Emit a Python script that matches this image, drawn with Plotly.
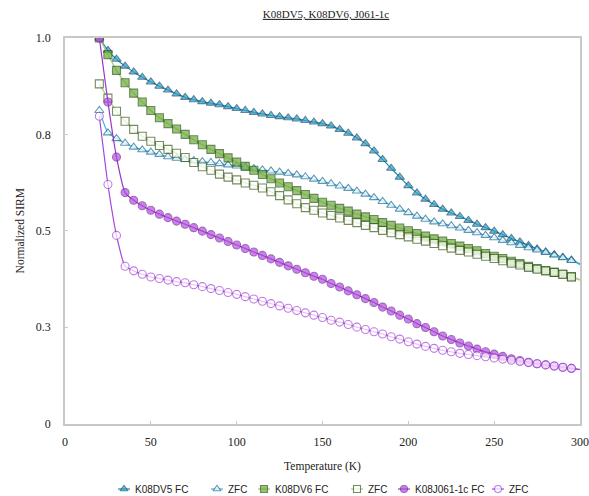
import plotly.graph_objects as go

# Temperature steps (K)
temperature = list(range(20, 305, 5))

# Normalized SIRM, one list per sample / cooling mode
dv5_fc = [1.000, 0.968, 0.945, 0.927, 0.912, 0.898, 0.886, 0.875, 0.865, 0.855,
          0.846, 0.840, 0.835, 0.831, 0.827, 0.822, 0.817, 0.812, 0.807, 0.803,
          0.799, 0.796, 0.793, 0.790, 0.786, 0.782, 0.778, 0.772, 0.763, 0.753,
          0.741, 0.726, 0.707, 0.685, 0.662, 0.639, 0.617, 0.598, 0.582, 0.568,
          0.556, 0.546, 0.537, 0.527, 0.517, 0.508, 0.499, 0.490, 0.480, 0.471,
          0.462, 0.453, 0.445, 0.438, 0.431, 0.424, 0.414]
dv5_zfc = [0.812, 0.754, 0.739, 0.727, 0.717, 0.710, 0.704, 0.698, 0.692, 0.688,
           0.685, 0.682, 0.679, 0.677, 0.674, 0.671, 0.668, 0.665, 0.661, 0.658,
           0.655, 0.652, 0.649, 0.645, 0.640, 0.634, 0.628, 0.622, 0.616, 0.610,
           0.603, 0.595, 0.586, 0.576, 0.566, 0.556, 0.547, 0.538, 0.530, 0.523,
           0.518, 0.513, 0.507, 0.501, 0.495, 0.488, 0.482, 0.475, 0.469, 0.462,
           0.456, 0.450, 0.444, 0.437, 0.430, 0.423, 0.412]
dv6_fc = [1.000, 0.957, 0.916, 0.884, 0.857, 0.834, 0.812, 0.793, 0.778, 0.764,
          0.750, 0.736, 0.723, 0.711, 0.700, 0.689, 0.678, 0.667, 0.657, 0.646,
          0.635, 0.624, 0.614, 0.604, 0.594, 0.584, 0.574, 0.566, 0.558, 0.551,
          0.543, 0.536, 0.529, 0.521, 0.514, 0.507, 0.500, 0.493, 0.486, 0.479,
          0.473, 0.467, 0.460, 0.454, 0.448, 0.441, 0.434, 0.428, 0.421, 0.415,
          0.408, 0.402, 0.397, 0.392, 0.387, 0.381, 0.373]
dv6_zfc = [0.881, 0.844, 0.810, 0.784, 0.763, 0.745, 0.732, 0.721, 0.711, 0.701,
           0.690, 0.677, 0.666, 0.657, 0.647, 0.639, 0.632, 0.624, 0.618, 0.611,
           0.601, 0.591, 0.580, 0.570, 0.560, 0.553, 0.546, 0.540, 0.533, 0.527,
           0.521, 0.514, 0.508, 0.501, 0.495, 0.490, 0.484, 0.478, 0.473, 0.467,
           0.461, 0.455, 0.449, 0.445, 0.439, 0.434, 0.428, 0.422, 0.416, 0.411,
           0.405, 0.400, 0.396, 0.392, 0.387, 0.380, 0.372]
j061_fc = [1.000, 0.834, 0.691, 0.599, 0.579, 0.565, 0.553, 0.543, 0.534, 0.525,
           0.517, 0.508, 0.499, 0.490, 0.481, 0.472, 0.463, 0.454, 0.445, 0.436,
           0.427, 0.418, 0.409, 0.400, 0.391, 0.382, 0.374, 0.363, 0.354, 0.344,
           0.334, 0.324, 0.314, 0.302, 0.292, 0.281, 0.271, 0.259, 0.249, 0.238,
           0.227, 0.218, 0.209, 0.201, 0.193, 0.186, 0.180, 0.174, 0.168, 0.163,
           0.159, 0.155, 0.152, 0.149, 0.146, 0.143, 0.140]
j061_zfc = [0.797, 0.620, 0.488, 0.408, 0.396, 0.387, 0.380, 0.376, 0.372, 0.368,
            0.365, 0.360, 0.355, 0.350, 0.345, 0.340, 0.335, 0.329, 0.323, 0.317,
            0.311, 0.305, 0.299, 0.293, 0.287, 0.281, 0.275, 0.268, 0.263, 0.257,
            0.250, 0.244, 0.238, 0.232, 0.225, 0.219, 0.212, 0.206, 0.200, 0.195,
            0.190, 0.186, 0.182, 0.179, 0.176, 0.173, 0.170, 0.167, 0.164, 0.161,
            0.158, 0.155, 0.152, 0.149, 0.146, 0.143, 0.140]

y_tickvals = [0, 0.25, 0.5, 0.75, 1.0]
y_ticktext = ["0", "0.3", "0.5", "0.8", "1.0"]
x_tickvals = [0, 50, 100, 150, 200, 250, 300]

# (name, values, symbol, fill, edge, line colour)
series = [
    ("K08DV5 FC", dv5_fc, "triangle-up", "#2ea6cf", "#1b4f6e", "#1f8db3"),
    ("ZFC", dv5_zfc, "triangle-up", "white", "#1c6e93", "#45b3dc"),
    ("K08DV6 FC", dv6_fc, "square", "#6aac38", "#2c5614", "#a3c97b"),
    ("ZFC", dv6_zfc, "square", "white", "#3b5c1d", "#a9cf85"),
    ("K08J061-1c FC", j061_fc, "circle", "#b34fe2", "#7a2c9c", "#9a33c8"),
    ("ZFC", j061_zfc, "circle", "white", "#a447d6", "#a447d6"),
]

# Legend row: horizontal pixel position of each key symbol
legend_px = [124, 217, 264, 357, 404, 498]

W, H = 589, 496
M_L, M_R, M_T, M_B = 65, 9, 38, 0
plot_h = H - M_T - M_B
main_bottom = (H - 423.5) / plot_h          # main axes sit above the legend row
legend_dom = [0, 2 * (H - 489) / plot_h]     # legend row centred near the bottom

fig = go.Figure()
for (name, vals, sym, fill, edge, lc), lx in zip(series, legend_px):
    # last sample sits on the frame edge: keep the line, hide its marker
    sizes = [8] * (len(temperature) - 1) + [0]
    fig.add_trace(go.Scatter(
        x=temperature, y=vals, name=name, mode="lines+markers",
        line=dict(color=lc, width=1.2, shape="spline", smoothing=0.5),
        marker=dict(symbol=sym, size=sizes, color=fill,
                    line=dict(color=edge, width=1.1)),
        showlegend=False,
    ))
    # legend key: short line stub with the series marker in the middle
    fig.add_trace(go.Scatter(
        x=[lx - 6, lx, lx + 6], y=[0, 0, 0], xaxis="x2", yaxis="y2",
        mode="lines+markers", line=dict(color=lc, width=1.2),
        marker=dict(symbol=sym, size=[0, 7, 0], color=fill,
                    line=dict(color=edge, width=1.1)),
        showlegend=False, hoverinfo="skip", cliponaxis=False,
    ))
    fig.add_annotation(x=lx + 9, y=0, xref="x2", yref="y2", text=name,
                       showarrow=False, xanchor="left", yanchor="middle",
                       font=dict(family="Liberation Sans", size=10, color="#222222"))

frame = "#c8c8c8"
title_font = dict(family="Liberation Serif", size=11.5, color="#222222")
fig.update_layout(
    width=W, height=H,
    margin=dict(l=M_L, r=M_R, t=M_T, b=M_B),
    paper_bgcolor="white", plot_bgcolor="white",
    font=dict(family="Liberation Serif", size=12, color="#222222"),
    title=dict(text="<u>K08DV5, K08DV6, J061-1c</u>", x=326 / W, xanchor="center",
               y=1 - 14 / H, yanchor="middle",
               font=dict(family="Liberation Serif", size=11, color="#222222")),
    xaxis=dict(domain=[0, 1], range=[0, 300], tickvals=x_tickvals, ticks="inside",
               ticklen=3, tickcolor=frame, showline=True, linecolor=frame,
               linewidth=1.5, mirror=True, showgrid=False, zeroline=False,
               ticklabelstandoff=6, automargin=False, anchor="y",
               tickfont=dict(size=12),
               title=dict(text="Temperature (K)", standoff=14, font=title_font)),
    yaxis=dict(domain=[main_bottom, 1], range=[0, 1], tickvals=y_tickvals,
               ticktext=y_ticktext, ticks="inside", ticklen=3, tickcolor=frame,
               showline=True, linecolor=frame, linewidth=1.5, mirror=True,
               showgrid=False, zeroline=False, ticklabelstandoff=10,
               automargin=False, anchor="x", tickfont=dict(size=12),
               title=dict(text="Normalized SIRM", standoff=9, font=title_font)),
    xaxis2=dict(domain=[0, 1], range=[M_L, W - M_R], visible=False, anchor="y2",
                fixedrange=True),
    yaxis2=dict(domain=legend_dom, range=[-1, 1], visible=False, anchor="x2",
                fixedrange=True),
    showlegend=False,
)

fig.write_html("out.html")
